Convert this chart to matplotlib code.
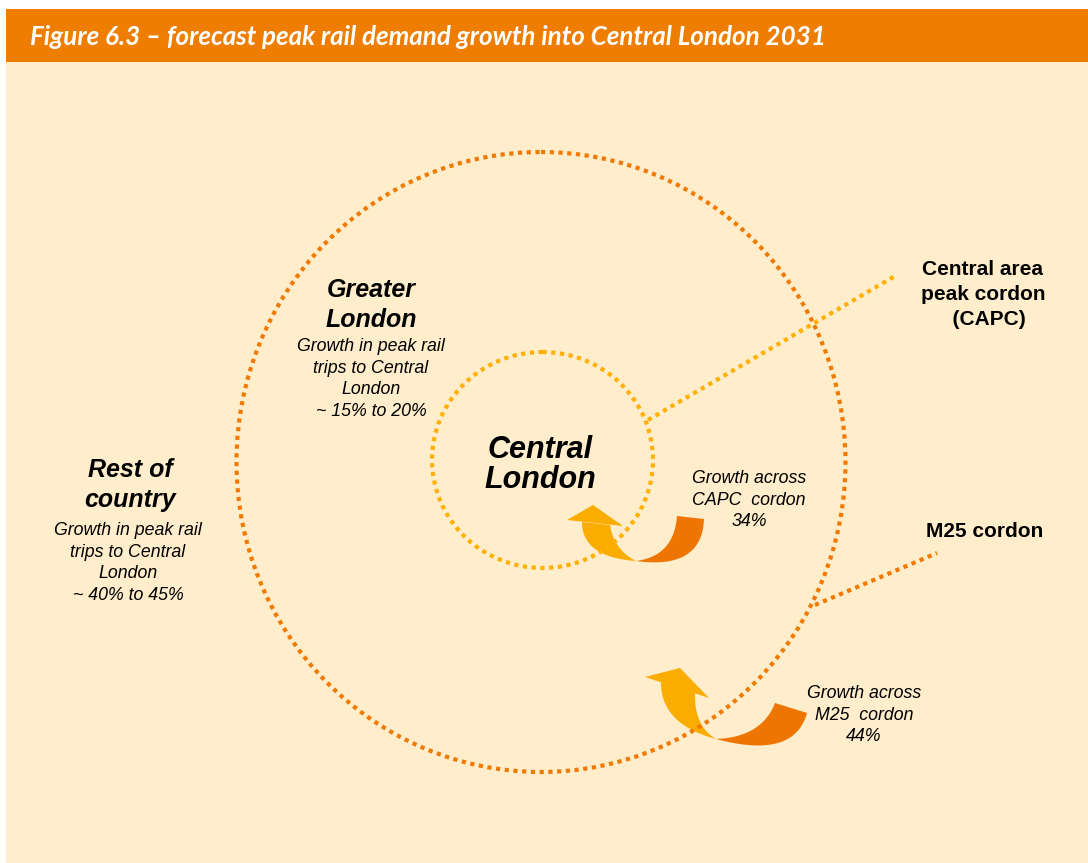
import numpy as np
import matplotlib.pyplot as plt
from matplotlib.patches import Rectangle, Ellipse, Polygon

# text content
title = "Figure 6.3 \u2013 forecast peak rail demand growth into Central London 2031"
zones = ["Central\nLondon", "Greater\nLondon", "Rest of\ncountry"]
zone_growth = ["~ 15% to 20%", "~ 40% to 45%"]
cordons = ["CAPC", "M25"]
cordon_growth = [34, 44]

ORANGE = "#EE7D00"
CREAM = "#FFEDCC"
DOT_ORANGE = "#F07A00"
DOT_YELLOW = "#FFB000"
ARROW_YELLOW = "#FAAD00"
ARROW_ORANGE = "#EE7600"


def bez(p0, c, p2, n=40):
    t = np.linspace(0, 1, n)[:, None]
    p0, c, p2 = map(np.asarray, (p0, c, p2))
    return (1 - t) ** 2 * p0 + 2 * (1 - t) * t * c + t ** 2 * p2


def curved_arrow(ax, tail, mid, head):
    # tail: (outer start, outer ctrl, inner start, inner ctrl) ending at mid
    o0, oc, i0, ic = tail
    outer = bez(o0, oc, mid)
    inner = bez(i0, ic, mid)
    ax.add_patch(Polygon(np.vstack([outer, inner[::-1]]), closed=True,
                         fc=ARROW_ORANGE, ec="none", zorder=2))
    # rising part with head
    yo1, yoc, yi1, yic, hl, tip, hr = head
    outer = bez(mid, yoc, yo1)
    inner = bez(mid, yic, yi1)
    ax.add_patch(Polygon(np.vstack([outer, inner[::-1]]), closed=True,
                         fc=ARROW_YELLOW, ec="none", zorder=2))
    ax.add_patch(Polygon([hl, tip, hr], closed=True,
                         fc=ARROW_YELLOW, ec="none", zorder=2))


fig = plt.figure(figsize=(10.88, 8.63), dpi=100)
ax = fig.add_axes([0, 0, 1, 1])
ax.set_xlim(0, 1088)
ax.set_ylim(863, 0)
ax.axis("off")

ax.add_patch(Rectangle((6, 9), 1082, 53, fc=ORANGE, ec="none", zorder=0))
ax.add_patch(Rectangle((6, 62), 1082, 801, fc=CREAM, ec="none", zorder=0))
ax.text(30, 37, title, color="white", fontsize=18.7, fontstyle="italic",
        fontweight="bold", family="Lato", va="center", ha="left")

# cordons
dots = (0, (1, 1.1))
ax.add_patch(Ellipse((541, 462), 609, 620, fill=False, ec=DOT_ORANGE,
                     lw=3, ls=dots, zorder=3))
ax.add_patch(Ellipse((542.5, 460), 221, 216, fill=False, ec=DOT_YELLOW,
                     lw=3, ls=dots, zorder=3))
ax.plot([648, 895], [420, 276], color=DOT_YELLOW, lw=3, ls=dots, zorder=3)
ax.plot([815, 937], [605, 553], color=DOT_ORANGE, lw=3, ls=dots, zorder=3)

# growth arrows
curved_arrow(ax,
             ((704, 519), (702, 570), (677, 516), (674, 556)), (636, 561),
             ((582, 522), (582, 557), (610, 525), (614, 550),
              (567, 520), (593, 505), (623, 526)))
curved_arrow(ax,
             ((807, 713), (794, 760), (775, 703), (762, 737)), (716, 739),
             ((661, 681), (660, 724), (695, 693), (694, 726),
              (645, 677), (680, 668), (709, 698)))

font = "Liberation Sans"
bi = dict(family=font, fontstyle="italic", fontweight="bold",
          ha="center", va="center")
it = dict(family=font, fontstyle="italic", ha="center", va="center",
          linespacing=1.38, fontsize=12.8)
bd = dict(family=font, fontweight="bold", ha="center", va="center",
          linespacing=1.4, fontsize=15)

ax.text(540, 465, zones[0], fontsize=22, linespacing=1.0, **bi)
ax.text(371, 305, zones[1], fontsize=18, linespacing=1.3, **bi)
ax.text(130, 485, zones[2], fontsize=18, linespacing=1.3, **bi)
ax.text(371, 379, "Growth in peak rail\ntrips to Central\nLondon\n" + zone_growth[0], **it)
ax.text(128, 563, "Growth in peak rail\ntrips to Central\nLondon\n" + zone_growth[1], **it)
ax.text(749, 500, "Growth across\n%s  cordon\n%d%%" % (cordons[0], cordon_growth[0]), **it)
ax.text(864, 715, "Growth across\n%s  cordon\n%d%%" % (cordons[1], cordon_growth[1]), **it)
ax.text(983, 294, "Central area\npeak cordon\n  (%s)" % cordons[0], **bd)
ax.text(985, 531, "%s cordon" % cordons[1], **bd)

fig.savefig("out.png", dpi=100, facecolor="white")
